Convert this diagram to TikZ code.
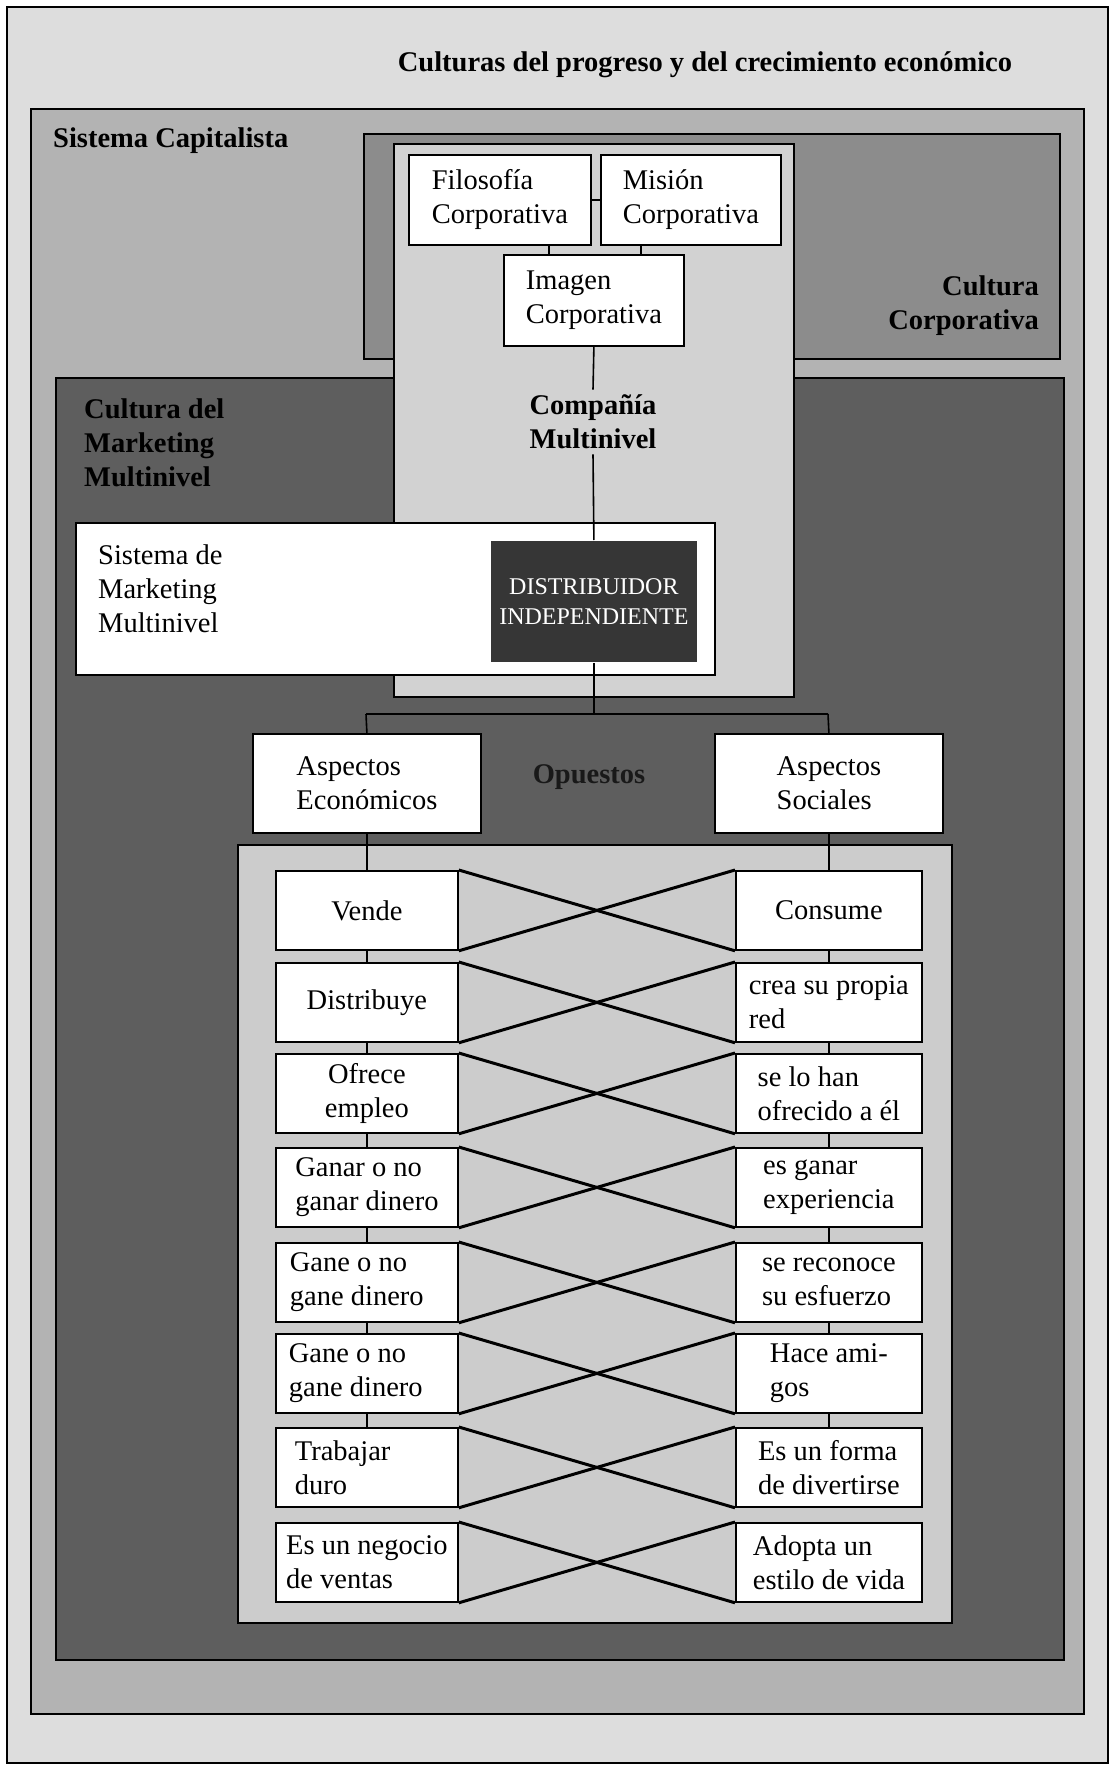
\documentclass[tikz,border=0pt]{standalone}
\usepackage{fontspec}
\setmainfont{Liberation Serif}
\newcommand\txt{\fontsize{28.5}{34}\selectfont}
\newcommand\smalltxt{\fontsize{24}{30}\selectfont}
\definecolor{pagegray}{HTML}{DDDDDD}
\definecolor{capgray}{HTML}{B3B3B3}
\definecolor{corpgray}{HTML}{8C8C8C}
\definecolor{mktgray}{HTML}{5E5E5E}
\definecolor{compgray}{HTML}{D2D2D2}
\definecolor{panelgray}{HTML}{CCCCCC}
\definecolor{distgray}{HTML}{363636}
\begin{document}
\begin{tikzpicture}[x=1pt,y=-1pt,
  frame/.style={draw=black, line width=2pt},
  box/.style={draw=black, fill=white, line width=1.8pt, inner sep=0pt,
    anchor=north west, align=flush left, font=\txt},
  lbox/.style={box, minimum width=182pt, minimum height=79pt},
  rbox/.style={box, minimum width=186pt, minimum height=79pt},
  link/.style={draw=black, line width=1.6pt},
  cross/.style={draw=black, line width=3pt},
  head/.style={font=\bfseries\txt, inner sep=0pt},
]
\useasboundingbox (0,0) rectangle (1115,1766);

% nested cultural frames
\filldraw[frame, fill=pagegray] (7,7) rectangle (1108,1763);
\filldraw[frame, fill=capgray] (31,109) rectangle (1084,1714);
\filldraw[frame, fill=corpgray] (364,134) rectangle (1060,359);
\filldraw[frame, fill=mktgray] (56,378) rectangle (1064,1660);
\filldraw[frame, fill=compgray] (394,144) rectangle (794,697);

% frame titles
\node[head, anchor=base] (title) at (705,72) {Culturas del progreso y del crecimiento económico};
\node[head, anchor=base west] (capital) at (53,147) {Sistema Capitalista};
\node[head, anchor=east, align=flush right] (corp) at (1039,306) {Cultura\\Corporativa};
\node[head, anchor=west, align=flush left] (mkt) at (84,443) {Cultura del\\Marketing\\Multinivel};
\node[head, align=center, inner sep=5pt] (compania) at (593,422) {Compañía\\Multinivel};

% corporate identity
\node[box, minimum width=182pt, minimum height=90pt] (filo) at (408,154) {Filosofía\\Corporativa};
\node[box, minimum width=180pt, minimum height=90pt] (mision) at (600,154) {Misión\\Corporativa};
\node[box, minimum width=180pt, minimum height=91pt] (imagen) at (503,254) {Imagen\\Corporativa};
\draw[link] (filo.east) -- (mision.west);
\draw[link] ([xshift=-45pt]imagen.north) -- ([xshift=-45pt]imagen.north |- filo.south);
\draw[link] ([xshift=47pt]imagen.north) -- ([xshift=47pt]imagen.north |- mision.south);
\draw[link] (imagen.south) -- (compania.north);

% marketing system and distributor
\node[box, minimum width=639pt, minimum height=152pt] (sistema) at (75,522) {};
\node[font=\txt, align=flush left, anchor=west, inner sep=0pt] (sistematxt) at (98,589) {Sistema de\\Marketing\\Multinivel};
\node[box, draw=none, fill=distgray, text=white, font=\smalltxt, align=center,
  minimum width=206pt, minimum height=121pt] (distrib) at (490,540) {DISTRIBUIDOR\\INDEPENDIENTE};
\draw[link] (compania.south) -- (distrib.north);

% split into the two opposite aspects
\coordinate (opL) at (366,714);
\coordinate (opR) at (828,714);
\draw[link] (distrib.south) -- (distrib.south |- opL);
\draw[link] (opL) -- (opR);
\node[box, minimum width=228pt, minimum height=99pt] (econ) at (252,733) {Aspectos\\Económicos};
\node[box, minimum width=228pt, minimum height=99pt] (soc) at (714,733) {Aspectos\\Sociales};
\draw[link] (opL) -- (econ.north);
\draw[link] (opR) -- (soc.north);
\node[head, text=black!90] (opuestos) at (589,777) {Opuestos};

% panel of paired statements
\filldraw[frame, fill=panelgray] (238,845) rectangle (952,1623);

\node[lbox, align=center] (l1) at (275,870) {Vende};
\node[lbox, align=center] (l2) at (275,962) {Distribuye};
\node[lbox, align=center] (l3) at (275,1053) {Ofrece\\empleo};
\node[lbox] (l4) at (275,1147) {Ganar o no\\ganar dinero};
\node[lbox, inner xsep=14pt, text width=154pt] (l5) at (275,1242) {Gane o no\\gane dinero};
\node[lbox, inner xsep=13pt, text width=156pt] (l6) at (275,1333) {Gane o no\\gane dinero};
\node[lbox, inner xsep=19pt, text width=144pt] (l7) at (275,1427) {Trabajar\\duro};
\node[lbox] (l8) at (275,1522) {Es un negocio\\de ventas};

\node[rbox, align=center] (r1) at (735,870) {Consume};
\node[rbox] (r2) at (735,962) {crea su propia\\red};
\node[rbox] (r3) at (735,1053) {se lo han\\ofrecido a él};
\node[rbox] (r4) at (735,1147) {es ganar\\experiencia};
\node[rbox] (r5) at (735,1242) {se reconoce\\su esfuerzo};
\node[rbox] (r6) at (735,1333) {Hace ami-\\gos};
\node[rbox] (r7) at (735,1427) {Es un forma\\de divertirse};
\node[rbox] (r8) at (735,1522) {Adopta un\\estilo de vida};

\draw[link] (econ.south) -- (l1.north);
\draw[link] (soc.south) -- (r1.north);
\foreach \i/\j in {1/2,2/3,3/4,4/5,5/6,6/7} {
  \draw[link] (l\i.south) -- (l\j.north);
  \draw[link] (r\i.south) -- (r\j.north);
}
\foreach \i in {1,...,8} {
  \draw[cross] (l\i.north east) -- (r\i.south west);
  \draw[cross] (l\i.south east) -- (r\i.north west);
}
\end{tikzpicture}
\end{document}
